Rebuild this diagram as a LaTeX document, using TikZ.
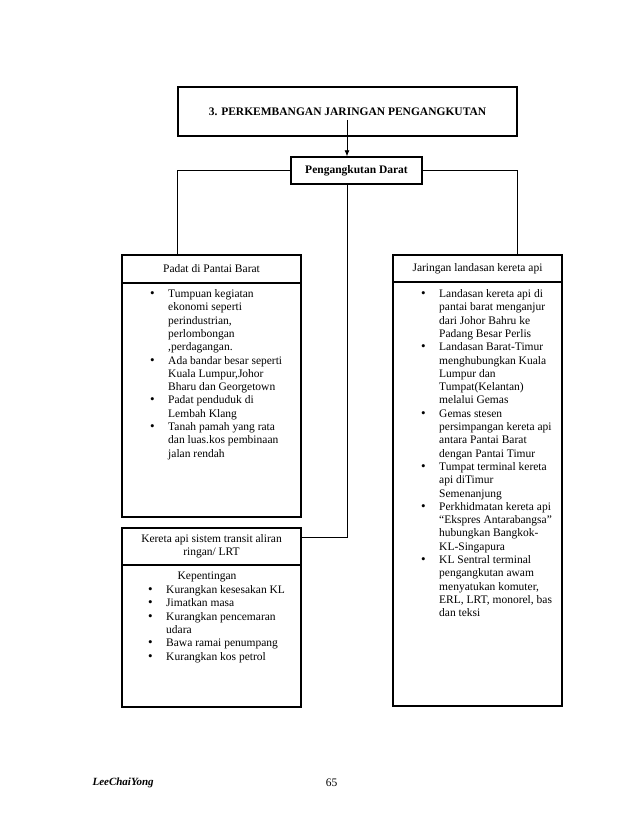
\documentclass[tikz,border=0pt]{standalone}
\usepackage{fontspec}
\setmainfont{Liberation Serif}
\usetikzlibrary{arrows.meta,positioning}
\newcommand{\blist}[1]{\begin{tabular}{@{}p{18pt}@{}l@{}}#1\end{tabular}}
\newcommand{\bul}{{\fontsize{13}{13.3}\selectfont\textbullet}}

\begin{document}
\begin{tikzpicture}[
    x=1pt, y=-1pt,
    font=\fontsize{11.5}{13.3}\selectfont,
    box/.style={draw, line width=1.4pt, minimum width=179pt, inner sep=0pt},
    head/.style={box, align=center},
    bold/.style={font=\fontsize{11.5}{13.3}\selectfont\bfseries},
    list/.style={anchor=north west, inner sep=0pt},
    conn/.style={line width=0.8pt},
    arrow/.style={conn, -{Latex[length=6pt,width=5pt]}}
]
    \useasboundingbox (0,0) rectangle (638,826);

    \node[box, bold, minimum width=339pt, minimum height=49pt] (title) at (347.5,111.5) {3. PERKEMBANGAN JARINGAN PENGANGKUTAN};
    \node[box, bold, minimum width=131pt, minimum height=27pt] (darat) at (356.5,170.5) {Pengangkutan Darat};

    \node[head, minimum height=28pt] (padathead) at (211.5,269) {Padat di Pantai Barat};
    \node[box, minimum height=234pt] (padatbody) at (211.5,400) {};
    \node[head, minimum width=169pt, minimum height=27pt] (jaringhead) at (477.5,268.5) {Jaringan landasan kereta api};
    \node[box, minimum width=169pt, minimum height=424pt] (jaringbody) at (477.5,494) {};
    \node[head, minimum height=37pt] (lrthead) at (211.5,546.5) {Kereta api sistem transit aliran\\ringan/ LRT};
    \node[box, minimum height=142pt] (lrtbody) at (211.5,636) {};

    \node[list] (padatlist) at (150,288) {\blist{
        \bul & Tumpuan kegiatan\\
             & ekonomi seperti\\
             & perindustrian,\\
             & perlombongan\\
             & ,perdagangan.\\
        \bul & Ada bandar besar seperti\\
             & Kuala Lumpur,Johor\\
             & Bharu dan Georgetown\\
        \bul & Padat penduduk di\\
             & Lembah Klang\\
        \bul & Tanah pamah yang rata\\
             & dan luas.kos pembinaan\\
             & jalan rendah}};
    \node[list] (jaringlist) at (421,288) {\blist{
        \bul & Landasan kereta api di\\
             & pantai barat menganjur\\
             & dari Johor Bahru ke\\
             & Padang Besar Perlis\\
        \bul & Landasan Barat-Timur\\
             & menghubungkan Kuala\\
             & Lumpur dan\\
             & Tumpat(Kelantan)\\
             & melalui Gemas\\
        \bul & Gemas stesen\\
             & persimpangan kereta api\\
             & antara Pantai Barat\\
             & dengan Pantai Timur\\
        \bul & Tumpat terminal kereta\\
             & api diTimur\\
             & Semenanjung\\
        \bul & Perkhidmatan kereta api\\
             & “Ekspres Antarabangsa”\\
             & hubungkan Bangkok-\\
             & KL-Singapura\\
        \bul & KL Sentral terminal\\
             & pengangkutan awam\\
             & menyatukan komuter,\\
             & ERL, LRT, monorel, bas\\
             & dan teksi}};
    \node (kep) at (207,577) {Kepentingan};
    \node[list] (lrtlist) at (148,584) {\blist{
        \bul & Kurangkan kesesakan KL\\
        \bul & Jimatkan masa\\
        \bul & Kurangkan pencemaran\\
             & udara\\
        \bul & Bawa ramai penumpang\\
        \bul & Kurangkan kos petrol}};

    \node[anchor=west, font=\fontsize{11}{13.3}\selectfont\bfseries\itshape] (author) at (89,783) {LeeChaiYong};
    \node (page) at (331.5,783) {65};

    % connectors
    \coordinate (arrowtop) at (347,120);
    \draw[arrow] (arrowtop) -- (arrowtop |- darat.north);
    \draw[conn] (darat.west) -| (padathead.north -| title.west);
    \draw[conn] (darat.east) -| (jaringhead.north -| title.east);
    \draw[conn] (darat.south -| arrowtop) |- ([yshift=-10pt]lrthead.north east);
\end{tikzpicture}
\end{document}
